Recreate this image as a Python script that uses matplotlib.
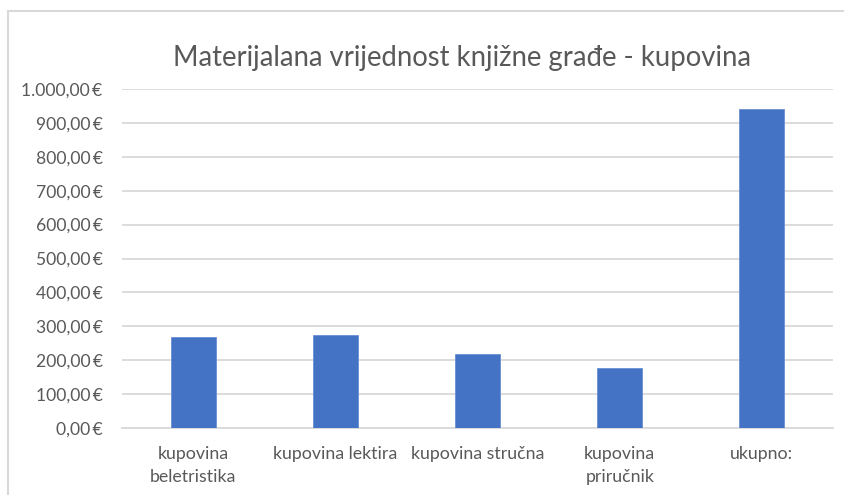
import matplotlib.pyplot as plt
from matplotlib.patches import Rectangle
from matplotlib.ticker import FuncFormatter

plt.rcParams['font.family'] = ['Lato', 'DejaVu Sans']

categories = ['kupovina\nbeletristika', 'kupovina lektira', 'kupovina stručna',
              'kupovina\npriručnik', 'ukupno:']
values = [268.0, 274.0, 218.0, 176.0, 942.0]
title = 'Materijalana vrijednost knjižne građe - kupovina'

text_col = '#595959'
grid_col = '#d9d9d9'
bar_col = '#4472c4'


def eur(v, pos=None):
    s = '{:,.2f}'.format(v)
    s = s.replace(',', 'X').replace('.', ',').replace('X', '.')
    return s + '\u2009€'


fig = plt.figure(figsize=(8.45, 4.95), dpi=100)
# chart border (Excel chart area)
fig.patches.append(Rectangle((8 / 845, -0.01), 1.0, 1 - 11 / 495 + 0.01,
                             transform=fig.transFigure, fill=False,
                             edgecolor=grid_col, linewidth=1.5))

ax = fig.add_axes([122 / 845, 1 - 428 / 495, (833 - 122) / 845, (428 - 89) / 495])
x = range(len(values))
ax.bar(x, values, width=0.316, color=bar_col, edgecolor='#6a8fd3', linewidth=0.6, zorder=3)
ax.set_xlim(-0.5, len(values) - 0.5)
ax.set_ylim(0, 1000)
ax.set_yticks(range(0, 1001, 100))
ax.yaxis.set_major_formatter(FuncFormatter(eur))
ax.grid(axis='y', color=grid_col, linewidth=1.3, zorder=0)
for s in ['top', 'right', 'left']:
    ax.spines[s].set_visible(False)
ax.spines['bottom'].set_color(grid_col)
ax.spines['bottom'].set_linewidth(1.3)
ax.set_xticks(list(x))
ax.set_xticklabels(categories, fontsize=12.8, color=text_col, linespacing=1.5)
ax.tick_params(axis='x', length=0, pad=13)
ax.tick_params(axis='y', length=0, pad=14, labelsize=12.6, labelcolor=text_col)
for lbl in ax.get_xticklabels():
    lbl.set_verticalalignment('top')

fig.text(462 / 845, 1 - 58 / 495, title, ha='center', va='center',
         fontsize=19.8, color=text_col)

fig.savefig('out.png', dpi=100, facecolor='white')
